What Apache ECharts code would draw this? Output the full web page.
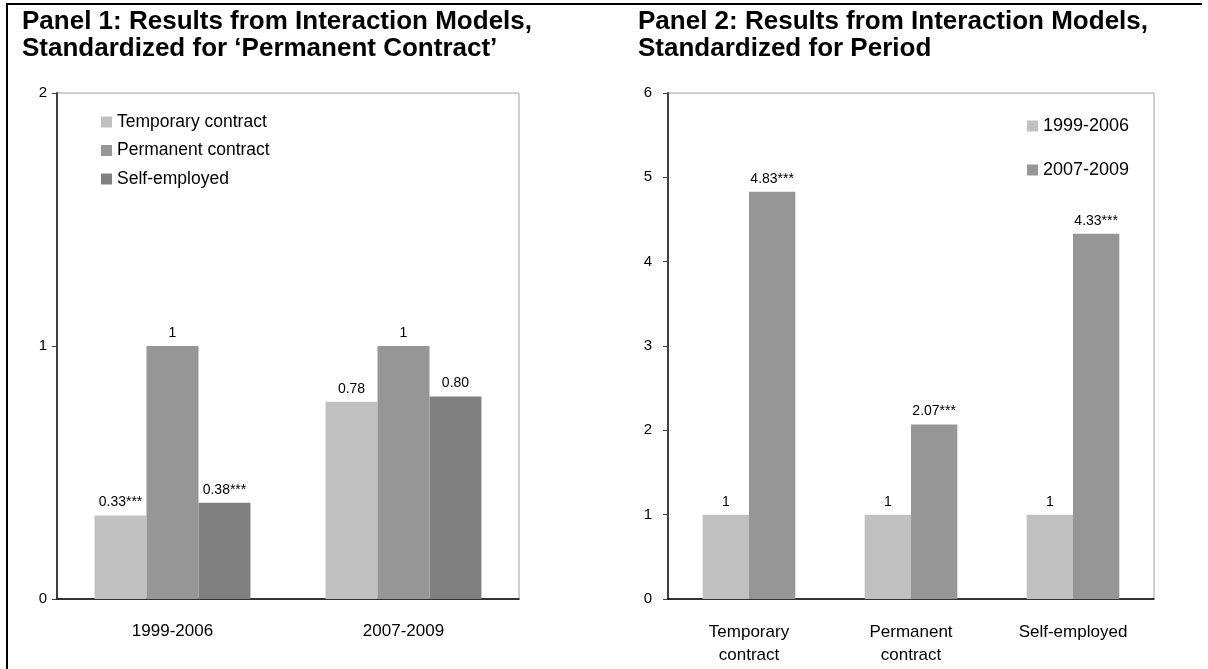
<!DOCTYPE html>
<html><head><meta charset="utf-8">
<script src="https://cdn.jsdelivr.net/npm/echarts@6/dist/echarts.min.js"></script>
<style>html,body{margin:0;padding:0;background:#fff}#c{width:1208px;height:669px}</style>
</head><body><div id="c"></div>
<script>
const periods = ['1999-2006', '2007-2009'];
const contractTypes = ['Temporary contract', 'Permanent contract', 'Self-employed'];
const contractAxisLabels = ['Temporary\ncontract', 'Permanent\ncontract', 'Self-employed'];

// Panel 1 values (per contract type, across periods)
const p1Temporary = [0.33, 0.78];
const p1Permanent = [1, 1];
const p1Self = [0.38, 0.80];
const p1TemporaryLbl = ['0.33***', '0.78'];
const p1PermanentLbl = ['1', '1'];
const p1SelfLbl = ['0.38***', '0.80'];

// Panel 2 values (per period, across contract types)
const p2Early = [1, 1, 1];
const p2Late = [4.83, 2.07, 4.33];
const p2EarlyLbl = ['1', '1', '1'];
const p2LateLbl = ['4.83***', '2.07***', '4.33***'];

const p1Ticks = [0, 1, 2];
const p2Ticks = [0, 1, 2, 3, 4, 5, 6];

const FONT = 'Liberation Sans, Arial, sans-serif';
const cLight = '#C0C0C0', cMid = '#969696', cDark = '#808080';

function lbl(arr) {
  return { show: true, position: 'top', distance: 6, color: '#000', fontSize: 14, fontFamily: FONT,
           formatter: p => arr[p.dataIndex] };
}

const chart = echarts.init(document.getElementById('c'), null, {renderer: 'canvas'});
chart.setOption({
  animation: false,
  textStyle: { fontFamily: FONT },
  title: [
    { text: 'Panel 1: Results from Interaction Models,\nStandardized for \u2018Permanent Contract\u2019', left: 22, top: 8, padding: 0,
      textStyle: { fontSize: 26, fontWeight: 'bold', color: '#000', lineHeight: 27, fontFamily: FONT } },
    { text: 'Panel 2: Results from Interaction Models,\nStandardized for Period', left: 638, top: 8, padding: 0,
      textStyle: { fontSize: 26, fontWeight: 'bold', color: '#000', lineHeight: 27, fontFamily: FONT } }
  ],
  legend: [
    { data: contractTypes, orient: 'vertical', left: 101, top: 113, padding: 0, itemWidth: 11, itemHeight: 11, itemGap: 10.5,
      icon: 'rect', textStyle: { fontSize: 17.5, color: '#000' } },
    { data: ['1999-2006', '2007-2009'], orient: 'vertical', left: 1027, top: 117, padding: 0, itemWidth: 11, itemHeight: 11, itemGap: 26,
      icon: 'rect', textStyle: { fontSize: 18, color: '#000' } }
  ],
  grid: [
    { left: 57, top: 93, width: 462, height: 506, show: true, borderColor: '#A0A0A0', borderWidth: 1 },
    { left: 668, top: 93, width: 486, height: 506, show: true, borderColor: '#A0A0A0', borderWidth: 1 }
  ],
  xAxis: [
    { type: 'category', gridIndex: 0, data: periods,
      axisLine: { lineStyle: { color: '#000', width: 1.5 } }, axisTick: { show: false },
      axisLabel: { color: '#000', fontSize: 17, margin: 24 } },
    { type: 'category', gridIndex: 1, data: contractAxisLabels,
      axisLine: { lineStyle: { color: '#000', width: 1.5 } }, axisTick: { show: false },
      axisLabel: { color: '#000', fontSize: 17, margin: 22, lineHeight: 23 } }
  ],
  yAxis: [
    { type: 'value', gridIndex: 0, min: p1Ticks[0], max: p1Ticks[p1Ticks.length - 1], interval: 1,
      axisLine: { show: true, lineStyle: { color: '#404040', width: 2 } },
      axisTick: { show: true, length: 5, lineStyle: { color: '#404040' } },
      splitLine: { show: false },
      axisLabel: { color: '#000', fontSize: 15, margin: 10 } },
    { type: 'value', gridIndex: 1, min: p2Ticks[0], max: p2Ticks[p2Ticks.length - 1], interval: 1,
      axisLine: { show: true, lineStyle: { color: '#404040', width: 2 } },
      axisTick: { show: true, length: 5, lineStyle: { color: '#404040' } },
      splitLine: { show: false },
      axisLabel: { color: '#000', fontSize: 15, margin: 16 } }
  ],
  series: [
    { name: contractTypes[0], type: 'bar', xAxisIndex: 0, yAxisIndex: 0, data: p1Temporary,
      itemStyle: { color: cLight }, barGap: '0%', barCategoryGap: '32.5%', label: lbl(p1TemporaryLbl) },
    { name: contractTypes[1], type: 'bar', xAxisIndex: 0, yAxisIndex: 0, data: p1Permanent,
      itemStyle: { color: cMid }, barGap: '0%', barCategoryGap: '32.5%', label: lbl(p1PermanentLbl) },
    { name: contractTypes[2], type: 'bar', xAxisIndex: 0, yAxisIndex: 0, data: p1Self,
      itemStyle: { color: cDark }, barGap: '0%', barCategoryGap: '32.5%', label: lbl(p1SelfLbl) },
    { name: '1999-2006', type: 'bar', xAxisIndex: 1, yAxisIndex: 1, data: p2Early,
      itemStyle: { color: cLight }, barGap: '0%', barCategoryGap: '42.8%', label: lbl(p2EarlyLbl) },
    { name: '2007-2009', type: 'bar', xAxisIndex: 1, yAxisIndex: 1, data: p2Late,
      itemStyle: { color: cMid }, barGap: '0%', barCategoryGap: '42.8%', label: lbl(p2LateLbl) }
  ],
  graphic: [
    { type: 'line', shape: { x1: 6, y1: 4, x2: 1202, y2: 4 }, style: { stroke: '#000', lineWidth: 2 } },
    { type: 'line', shape: { x1: 7, y1: 3, x2: 7, y2: 669 }, style: { stroke: '#000', lineWidth: 2 } }
  ]
});
</script></body></html>
